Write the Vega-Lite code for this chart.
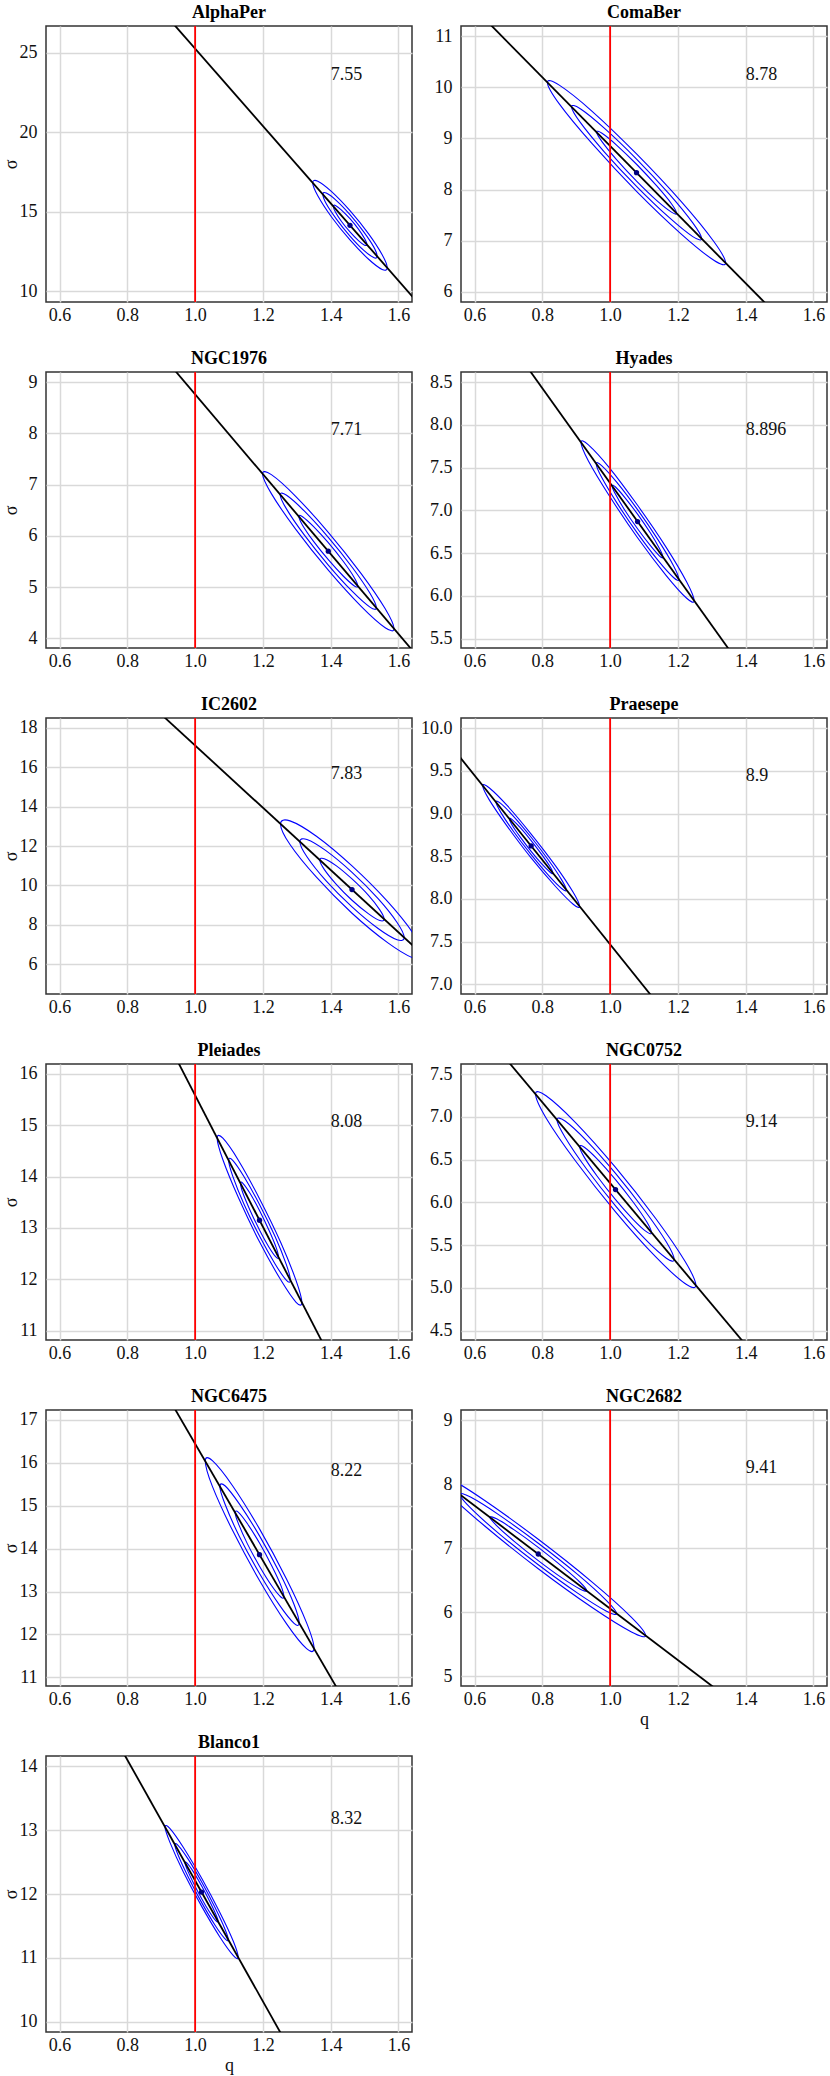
{
"$schema": "https://vega.github.io/schema/vega-lite/v6.json",
"padding": {"left": 1, "top": 3, "right": 2, "bottom": 2},
"config": {
  "font": "Liberation Serif",
  "view": {"stroke": "#333333", "strokeWidth": 1.5},
  "title": {"font": "Liberation Serif", "fontSize": 18, "fontWeight": "bold", "color": "#000000", "offset": 3},
  "axis": {"labelFont": "Liberation Serif", "labelFontSize": 18, "labelColor": "#111111", "titleFont": "Liberation Serif", "titleFontSize": 18, "titleFontWeight": "normal", "titleColor": "#111111", "grid": true, "gridColor": "#d9d9d9", "gridWidth": 1.5, "domain": false, "ticks": false},
  "axisX": {"labelPadding": 4, "titlePadding": 2},
  "axisY": {"labelPadding": 9, "minExtent": 26, "maxExtent": 26, "titlePadding": 0},
  "text": {"font": "Liberation Serif"}
},
"datasets": {
  "fit": [
    {"p":"AlphaPer","q":0.5,"s":37.41},{"p":"AlphaPer","q":1.7,"s":8.245},
    {"p":"ComaBer","q":0.5,"s":12.214},{"p":"ComaBer","q":1.7,"s":4.15},
    {"p":"NGC1976","q":0.5,"s":12.665},{"p":"NGC1976","q":1.7,"s":3.305},
    {"p":"Hyades","q":0.5,"s":10.095},{"p":"Hyades","q":1.7,"s":3.435},
    {"p":"IC2602","q":0.5,"s":25.005},{"p":"IC2602","q":1.7,"s":6.045},
    {"p":"Praesepe","q":0.5,"s":9.942},{"p":"Praesepe","q":1.7,"s":4.002},
    {"p":"Pleiades","q":0.5,"s":21.982},{"p":"Pleiades","q":1.7,"s":6.622},
    {"p":"NGC0752","q":0.5,"s":8.591},{"p":"NGC0752","q":1.7,"s":2.915},
    {"p":"NGC6475","q":0.5,"s":23.244},{"p":"NGC6475","q":1.7,"s":6.924},
    {"p":"NGC2682","q":0.5,"s":8.069},{"p":"NGC2682","q":1.7,"s":3.245},
    {"p":"Blanco1","q":0.5,"s":16.935},{"p":"Blanco1","q":1.7,"s":5.595}
  ],
  "centers": [
    {"p":"AlphaPer","q":1.457,"s":14.15},
    {"p":"ComaBer","q":1.078,"s":8.33},
    {"p":"NGC1976","q":1.393,"s":5.70},
    {"p":"Hyades","q":1.081,"s":6.87},
    {"p":"IC2602","q":1.463,"s":9.79},
    {"p":"Praesepe","q":0.767,"s":8.62},
    {"p":"Pleiades","q":1.19,"s":13.15},
    {"p":"NGC0752","q":1.016,"s":6.15},
    {"p":"NGC6475","q":1.19,"s":13.86},
    {"p":"NGC2682","q":0.788,"s":6.911},
    {"p":"Blanco1","q":1.019,"s":12.03}
  ],
  "labels": [
    {"p":"AlphaPer","q":1.4,"s":23.6,"t":"7.55"},
    {"p":"ComaBer","q":1.4,"s":10.24,"t":"8.78"},
    {"p":"NGC1976","q":1.4,"s":8.06,"t":"7.71"},
    {"p":"Hyades","q":1.4,"s":7.94,"t":"8.896"},
    {"p":"IC2602","q":1.4,"s":15.65,"t":"7.83"},
    {"p":"Praesepe","q":1.4,"s":9.44,"t":"8.9"},
    {"p":"Pleiades","q":1.4,"s":15.06,"t":"8.08"},
    {"p":"NGC0752","q":1.4,"s":6.94,"t":"9.14"},
    {"p":"NGC6475","q":1.4,"s":15.8,"t":"8.22"},
    {"p":"NGC2682","q":1.4,"s":8.26,"t":"9.41"},
    {"p":"Blanco1","q":1.4,"s":13.17,"t":"8.32"}
  ],
  "ell": [
    {"p":"AlphaPer","e":1,"i":0,"q":1.567,"s":11.477},{"p":"AlphaPer","e":1,"i":1,"q":1.552,"s":12.295},{"p":"AlphaPer","e":1,"i":2,"q":1.512,"s":13.61},{"p":"AlphaPer","e":1,"i":3,"q":1.457,"s":15.07},{"p":"AlphaPer","e":1,"i":4,"q":1.402,"s":16.284},{"p":"AlphaPer","e":1,"i":5,"q":1.362,"s":16.925},{"p":"AlphaPer","e":1,"i":6,"q":1.347,"s":16.823},{"p":"AlphaPer","e":1,"i":7,"q":1.362,"s":16.005},{"p":"AlphaPer","e":1,"i":8,"q":1.402,"s":14.69},{"p":"AlphaPer","e":1,"i":9,"q":1.457,"s":13.23},{"p":"AlphaPer","e":1,"i":10,"q":1.512,"s":12.016},{"p":"AlphaPer","e":1,"i":11,"q":1.552,"s":11.375},
    {"p":"AlphaPer","e":2,"i":0,"q":1.537,"s":12.199},{"p":"AlphaPer","e":2,"i":1,"q":1.527,"s":12.796},{"p":"AlphaPer","e":2,"i":2,"q":1.497,"s":13.756},{"p":"AlphaPer","e":2,"i":3,"q":1.457,"s":14.822},{"p":"AlphaPer","e":2,"i":4,"q":1.417,"s":15.708},{"p":"AlphaPer","e":2,"i":5,"q":1.387,"s":16.176},{"p":"AlphaPer","e":2,"i":6,"q":1.377,"s":16.101},{"p":"AlphaPer","e":2,"i":7,"q":1.387,"s":15.504},{"p":"AlphaPer","e":2,"i":8,"q":1.417,"s":14.544},{"p":"AlphaPer","e":2,"i":9,"q":1.457,"s":13.478},{"p":"AlphaPer","e":2,"i":10,"q":1.497,"s":12.592},{"p":"AlphaPer","e":2,"i":11,"q":1.527,"s":12.124},
    {"p":"AlphaPer","e":3,"i":0,"q":1.507,"s":12.947},{"p":"AlphaPer","e":3,"i":1,"q":1.5,"s":13.315},{"p":"AlphaPer","e":3,"i":2,"q":1.482,"s":13.908},{"p":"AlphaPer","e":3,"i":3,"q":1.457,"s":14.564},{"p":"AlphaPer","e":3,"i":4,"q":1.432,"s":15.11},{"p":"AlphaPer","e":3,"i":5,"q":1.414,"s":15.399},{"p":"AlphaPer","e":3,"i":6,"q":1.408,"s":15.353},{"p":"AlphaPer","e":3,"i":7,"q":1.414,"s":14.985},{"p":"AlphaPer","e":3,"i":8,"q":1.432,"s":14.392},{"p":"AlphaPer","e":3,"i":9,"q":1.457,"s":13.736},{"p":"AlphaPer","e":3,"i":10,"q":1.482,"s":13.19},{"p":"AlphaPer","e":3,"i":11,"q":1.5,"s":12.901},

    {"p":"ComaBer","e":1,"i":0,"q":1.341,"s":6.563},{"p":"ComaBer","e":1,"i":1,"q":1.306,"s":6.983},{"p":"ComaBer","e":1,"i":2,"q":1.21,"s":7.763},{"p":"ComaBer","e":1,"i":3,"q":1.078,"s":8.696},{"p":"ComaBer","e":1,"i":4,"q":0.947,"s":9.531},{"p":"ComaBer","e":1,"i":5,"q":0.85,"s":10.043},{"p":"ComaBer","e":1,"i":6,"q":0.815,"s":10.097},{"p":"ComaBer","e":1,"i":7,"q":0.85,"s":9.677},{"p":"ComaBer","e":1,"i":8,"q":0.947,"s":8.897},{"p":"ComaBer","e":1,"i":9,"q":1.078,"s":7.964},{"p":"ComaBer","e":1,"i":10,"q":1.21,"s":7.129},{"p":"ComaBer","e":1,"i":11,"q":1.306,"s":6.617},
    {"p":"ComaBer","e":2,"i":0,"q":1.27,"s":7.04},{"p":"ComaBer","e":2,"i":1,"q":1.244,"s":7.347},{"p":"ComaBer","e":2,"i":2,"q":1.174,"s":7.916},{"p":"ComaBer","e":2,"i":3,"q":1.078,"s":8.597},{"p":"ComaBer","e":2,"i":4,"q":0.982,"s":9.206},{"p":"ComaBer","e":2,"i":5,"q":0.912,"s":9.581},{"p":"ComaBer","e":2,"i":6,"q":0.886,"s":9.62},{"p":"ComaBer","e":2,"i":7,"q":0.912,"s":9.313},{"p":"ComaBer","e":2,"i":8,"q":0.982,"s":8.744},{"p":"ComaBer","e":2,"i":9,"q":1.078,"s":8.063},{"p":"ComaBer","e":2,"i":10,"q":1.174,"s":7.454},{"p":"ComaBer","e":2,"i":11,"q":1.244,"s":7.079},
    {"p":"ComaBer","e":3,"i":0,"q":1.196,"s":7.535},{"p":"ComaBer","e":3,"i":1,"q":1.181,"s":7.723},{"p":"ComaBer","e":3,"i":2,"q":1.137,"s":8.075},{"p":"ComaBer","e":3,"i":3,"q":1.078,"s":8.495},{"p":"ComaBer","e":3,"i":4,"q":1.019,"s":8.871},{"p":"ComaBer","e":3,"i":5,"q":0.976,"s":9.101},{"p":"ComaBer","e":3,"i":6,"q":0.96,"s":9.125},{"p":"ComaBer","e":3,"i":7,"q":0.976,"s":8.937},{"p":"ComaBer","e":3,"i":8,"q":1.019,"s":8.585},{"p":"ComaBer","e":3,"i":9,"q":1.078,"s":8.165},{"p":"ComaBer","e":3,"i":10,"q":1.137,"s":7.789},{"p":"ComaBer","e":3,"i":11,"q":1.181,"s":7.559},

    {"p":"NGC1976","e":1,"i":0,"q":1.587,"s":4.187},{"p":"NGC1976","e":1,"i":1,"q":1.561,"s":4.575},{"p":"NGC1976","e":1,"i":2,"q":1.49,"s":5.263},{"p":"NGC1976","e":1,"i":3,"q":1.393,"s":6.07},{"p":"NGC1976","e":1,"i":4,"q":1.296,"s":6.777},{"p":"NGC1976","e":1,"i":5,"q":1.225,"s":7.195},{"p":"NGC1976","e":1,"i":6,"q":1.199,"s":7.213},{"p":"NGC1976","e":1,"i":7,"q":1.225,"s":6.825},{"p":"NGC1976","e":1,"i":8,"q":1.296,"s":6.137},{"p":"NGC1976","e":1,"i":9,"q":1.393,"s":5.33},{"p":"NGC1976","e":1,"i":10,"q":1.49,"s":4.623},{"p":"NGC1976","e":1,"i":11,"q":1.561,"s":4.205},
    {"p":"NGC1976","e":2,"i":0,"q":1.535,"s":4.596},{"p":"NGC1976","e":2,"i":1,"q":1.516,"s":4.878},{"p":"NGC1976","e":2,"i":2,"q":1.464,"s":5.382},{"p":"NGC1976","e":2,"i":3,"q":1.393,"s":5.97},{"p":"NGC1976","e":2,"i":4,"q":1.322,"s":6.486},{"p":"NGC1976","e":2,"i":5,"q":1.27,"s":6.792},{"p":"NGC1976","e":2,"i":6,"q":1.251,"s":6.805},{"p":"NGC1976","e":2,"i":7,"q":1.27,"s":6.522},{"p":"NGC1976","e":2,"i":8,"q":1.322,"s":6.018},{"p":"NGC1976","e":2,"i":9,"q":1.393,"s":5.43},{"p":"NGC1976","e":2,"i":10,"q":1.464,"s":4.914},{"p":"NGC1976","e":2,"i":11,"q":1.516,"s":4.608},
    {"p":"NGC1976","e":3,"i":0,"q":1.48,"s":5.019},{"p":"NGC1976","e":3,"i":1,"q":1.469,"s":5.193},{"p":"NGC1976","e":3,"i":2,"q":1.437,"s":5.504},{"p":"NGC1976","e":3,"i":3,"q":1.393,"s":5.867},{"p":"NGC1976","e":3,"i":4,"q":1.349,"s":6.184},{"p":"NGC1976","e":3,"i":5,"q":1.317,"s":6.373},{"p":"NGC1976","e":3,"i":6,"q":1.306,"s":6.381},{"p":"NGC1976","e":3,"i":7,"q":1.317,"s":6.207},{"p":"NGC1976","e":3,"i":8,"q":1.349,"s":5.896},{"p":"NGC1976","e":3,"i":9,"q":1.393,"s":5.534},{"p":"NGC1976","e":3,"i":10,"q":1.437,"s":5.216},{"p":"NGC1976","e":3,"i":11,"q":1.469,"s":5.027},

    {"p":"Hyades","e":1,"i":0,"q":1.248,"s":5.943},{"p":"Hyades","e":1,"i":1,"q":1.226,"s":6.162},{"p":"Hyades","e":1,"i":2,"q":1.165,"s":6.571},{"p":"Hyades","e":1,"i":3,"q":1.081,"s":7.06},{"p":"Hyades","e":1,"i":4,"q":0.998,"s":7.499},{"p":"Hyades","e":1,"i":5,"q":0.936,"s":7.768},{"p":"Hyades","e":1,"i":6,"q":0.914,"s":7.797},{"p":"Hyades","e":1,"i":7,"q":0.936,"s":7.578},{"p":"Hyades","e":1,"i":8,"q":0.998,"s":7.169},{"p":"Hyades","e":1,"i":9,"q":1.081,"s":6.68},{"p":"Hyades","e":1,"i":10,"q":1.165,"s":6.241},{"p":"Hyades","e":1,"i":11,"q":1.226,"s":5.972},
    {"p":"Hyades","e":2,"i":0,"q":1.203,"s":6.193},{"p":"Hyades","e":2,"i":1,"q":1.187,"s":6.353},{"p":"Hyades","e":2,"i":2,"q":1.142,"s":6.652},{"p":"Hyades","e":2,"i":3,"q":1.081,"s":7.009},{"p":"Hyades","e":2,"i":4,"q":1.02,"s":7.328},{"p":"Hyades","e":2,"i":5,"q":0.975,"s":7.525},{"p":"Hyades","e":2,"i":6,"q":0.959,"s":7.547},{"p":"Hyades","e":2,"i":7,"q":0.975,"s":7.387},{"p":"Hyades","e":2,"i":8,"q":1.02,"s":7.088},{"p":"Hyades","e":2,"i":9,"q":1.081,"s":6.731},{"p":"Hyades","e":2,"i":10,"q":1.142,"s":6.412},{"p":"Hyades","e":2,"i":11,"q":1.187,"s":6.215},
    {"p":"Hyades","e":3,"i":0,"q":1.156,"s":6.453},{"p":"Hyades","e":3,"i":1,"q":1.146,"s":6.552},{"p":"Hyades","e":3,"i":2,"q":1.119,"s":6.735},{"p":"Hyades","e":3,"i":3,"q":1.081,"s":6.956},{"p":"Hyades","e":3,"i":4,"q":1.043,"s":7.153},{"p":"Hyades","e":3,"i":5,"q":1.016,"s":7.274},{"p":"Hyades","e":3,"i":6,"q":1.006,"s":7.287},{"p":"Hyades","e":3,"i":7,"q":1.016,"s":7.188},{"p":"Hyades","e":3,"i":8,"q":1.043,"s":7.005},{"p":"Hyades","e":3,"i":9,"q":1.081,"s":6.785},{"p":"Hyades","e":3,"i":10,"q":1.119,"s":6.587},{"p":"Hyades","e":3,"i":11,"q":1.146,"s":6.466},

    {"p":"IC2602","e":1,"i":0,"q":1.674,"s":6.456},{"p":"IC2602","e":1,"i":1,"q":1.646,"s":7.503},{"p":"IC2602","e":1,"i":2,"q":1.569,"s":9.162},{"p":"IC2602","e":1,"i":3,"q":1.463,"s":10.99},{"p":"IC2602","e":1,"i":4,"q":1.358,"s":12.496},{"p":"IC2602","e":1,"i":5,"q":1.28,"s":13.277},{"p":"IC2602","e":1,"i":6,"q":1.252,"s":13.124},{"p":"IC2602","e":1,"i":7,"q":1.28,"s":12.077},{"p":"IC2602","e":1,"i":8,"q":1.358,"s":10.418},{"p":"IC2602","e":1,"i":9,"q":1.463,"s":8.59},{"p":"IC2602","e":1,"i":10,"q":1.569,"s":7.084},{"p":"IC2602","e":1,"i":11,"q":1.646,"s":6.303},
    {"p":"IC2602","e":2,"i":0,"q":1.617,"s":7.356},{"p":"IC2602","e":2,"i":1,"q":1.596,"s":8.12},{"p":"IC2602","e":2,"i":2,"q":1.54,"s":9.332},{"p":"IC2602","e":2,"i":3,"q":1.463,"s":10.666},{"p":"IC2602","e":2,"i":4,"q":1.386,"s":11.766},{"p":"IC2602","e":2,"i":5,"q":1.33,"s":12.336},{"p":"IC2602","e":2,"i":6,"q":1.309,"s":12.224},{"p":"IC2602","e":2,"i":7,"q":1.33,"s":11.46},{"p":"IC2602","e":2,"i":8,"q":1.386,"s":10.248},{"p":"IC2602","e":2,"i":9,"q":1.463,"s":8.914},{"p":"IC2602","e":2,"i":10,"q":1.54,"s":7.814},{"p":"IC2602","e":2,"i":11,"q":1.596,"s":7.244},
    {"p":"IC2602","e":3,"i":0,"q":1.558,"s":8.29},{"p":"IC2602","e":3,"i":1,"q":1.545,"s":8.761},{"p":"IC2602","e":3,"i":2,"q":1.511,"s":9.508},{"p":"IC2602","e":3,"i":3,"q":1.463,"s":10.33},{"p":"IC2602","e":3,"i":4,"q":1.416,"s":11.008},{"p":"IC2602","e":3,"i":5,"q":1.381,"s":11.359},{"p":"IC2602","e":3,"i":6,"q":1.368,"s":11.29},{"p":"IC2602","e":3,"i":7,"q":1.381,"s":10.819},{"p":"IC2602","e":3,"i":8,"q":1.416,"s":10.072},{"p":"IC2602","e":3,"i":9,"q":1.463,"s":9.25},{"p":"IC2602","e":3,"i":10,"q":1.511,"s":8.572},{"p":"IC2602","e":3,"i":11,"q":1.545,"s":8.221},

    {"p":"Praesepe","e":1,"i":0,"q":0.91,"s":7.912},{"p":"Praesepe","e":1,"i":1,"q":0.891,"s":8.077},{"p":"Praesepe","e":1,"i":2,"q":0.839,"s":8.387},{"p":"Praesepe","e":1,"i":3,"q":0.767,"s":8.76},{"p":"Praesepe","e":1,"i":4,"q":0.696,"s":9.095},{"p":"Praesepe","e":1,"i":5,"q":0.643,"s":9.303},{"p":"Praesepe","e":1,"i":6,"q":0.624,"s":9.328},{"p":"Praesepe","e":1,"i":7,"q":0.643,"s":9.163},{"p":"Praesepe","e":1,"i":8,"q":0.696,"s":8.853},{"p":"Praesepe","e":1,"i":9,"q":0.767,"s":8.48},{"p":"Praesepe","e":1,"i":10,"q":0.839,"s":8.145},{"p":"Praesepe","e":1,"i":11,"q":0.891,"s":7.937},
    {"p":"Praesepe","e":2,"i":0,"q":0.871,"s":8.103},{"p":"Praesepe","e":2,"i":1,"q":0.857,"s":8.223},{"p":"Praesepe","e":2,"i":2,"q":0.819,"s":8.45},{"p":"Praesepe","e":2,"i":3,"q":0.767,"s":8.722},{"p":"Praesepe","e":2,"i":4,"q":0.715,"s":8.968},{"p":"Praesepe","e":2,"i":5,"q":0.677,"s":9.119},{"p":"Praesepe","e":2,"i":6,"q":0.663,"s":9.137},{"p":"Praesepe","e":2,"i":7,"q":0.677,"s":9.017},{"p":"Praesepe","e":2,"i":8,"q":0.715,"s":8.79},{"p":"Praesepe","e":2,"i":9,"q":0.767,"s":8.518},{"p":"Praesepe","e":2,"i":10,"q":0.819,"s":8.272},{"p":"Praesepe","e":2,"i":11,"q":0.857,"s":8.121},
    {"p":"Praesepe","e":3,"i":0,"q":0.831,"s":8.301},{"p":"Praesepe","e":3,"i":1,"q":0.823,"s":8.376},{"p":"Praesepe","e":3,"i":2,"q":0.799,"s":8.516},{"p":"Praesepe","e":3,"i":3,"q":0.767,"s":8.683},{"p":"Praesepe","e":3,"i":4,"q":0.735,"s":8.834},{"p":"Praesepe","e":3,"i":5,"q":0.711,"s":8.928},{"p":"Praesepe","e":3,"i":6,"q":0.703,"s":8.939},{"p":"Praesepe","e":3,"i":7,"q":0.711,"s":8.864},{"p":"Praesepe","e":3,"i":8,"q":0.735,"s":8.724},{"p":"Praesepe","e":3,"i":9,"q":0.767,"s":8.557},{"p":"Praesepe","e":3,"i":10,"q":0.799,"s":8.406},{"p":"Praesepe","e":3,"i":11,"q":0.823,"s":8.312},

    {"p":"Pleiades","e":1,"i":0,"q":1.315,"s":11.55},{"p":"Pleiades","e":1,"i":1,"q":1.298,"s":11.974},{"p":"Pleiades","e":1,"i":2,"q":1.253,"s":12.714},{"p":"Pleiades","e":1,"i":3,"q":1.19,"s":13.57},{"p":"Pleiades","e":1,"i":4,"q":1.128,"s":14.314},{"p":"Pleiades","e":1,"i":5,"q":1.082,"s":14.746},{"p":"Pleiades","e":1,"i":6,"q":1.065,"s":14.75},{"p":"Pleiades","e":1,"i":7,"q":1.082,"s":14.326},{"p":"Pleiades","e":1,"i":8,"q":1.128,"s":13.586},{"p":"Pleiades","e":1,"i":9,"q":1.19,"s":12.73},{"p":"Pleiades","e":1,"i":10,"q":1.253,"s":11.986},{"p":"Pleiades","e":1,"i":11,"q":1.298,"s":11.554},
    {"p":"Pleiades","e":2,"i":0,"q":1.281,"s":11.982},{"p":"Pleiades","e":2,"i":1,"q":1.269,"s":12.291},{"p":"Pleiades","e":2,"i":2,"q":1.236,"s":12.832},{"p":"Pleiades","e":2,"i":3,"q":1.19,"s":13.457},{"p":"Pleiades","e":2,"i":4,"q":1.144,"s":14.0},{"p":"Pleiades","e":2,"i":5,"q":1.111,"s":14.315},{"p":"Pleiades","e":2,"i":6,"q":1.099,"s":14.318},{"p":"Pleiades","e":2,"i":7,"q":1.111,"s":14.009},{"p":"Pleiades","e":2,"i":8,"q":1.144,"s":13.468},{"p":"Pleiades","e":2,"i":9,"q":1.19,"s":12.843},{"p":"Pleiades","e":2,"i":10,"q":1.236,"s":12.3},{"p":"Pleiades","e":2,"i":11,"q":1.269,"s":11.985},
    {"p":"Pleiades","e":3,"i":0,"q":1.246,"s":12.43},{"p":"Pleiades","e":3,"i":1,"q":1.239,"s":12.621},{"p":"Pleiades","e":3,"i":2,"q":1.218,"s":12.954},{"p":"Pleiades","e":3,"i":3,"q":1.19,"s":13.339},{"p":"Pleiades","e":3,"i":4,"q":1.162,"s":13.674},{"p":"Pleiades","e":3,"i":5,"q":1.141,"s":13.869},{"p":"Pleiades","e":3,"i":6,"q":1.134,"s":13.87},{"p":"Pleiades","e":3,"i":7,"q":1.141,"s":13.679},{"p":"Pleiades","e":3,"i":8,"q":1.162,"s":13.346},{"p":"Pleiades","e":3,"i":9,"q":1.19,"s":12.961},{"p":"Pleiades","e":3,"i":10,"q":1.218,"s":12.626},{"p":"Pleiades","e":3,"i":11,"q":1.239,"s":12.431},

    {"p":"NGC0752","e":1,"i":0,"q":1.253,"s":5.031},{"p":"NGC0752","e":1,"i":1,"q":1.221,"s":5.311},{"p":"NGC0752","e":1,"i":2,"q":1.134,"s":5.815},{"p":"NGC0752","e":1,"i":3,"q":1.016,"s":6.41},{"p":"NGC0752","e":1,"i":4,"q":0.898,"s":6.935},{"p":"NGC0752","e":1,"i":5,"q":0.811,"s":7.249},{"p":"NGC0752","e":1,"i":6,"q":0.78,"s":7.269},{"p":"NGC0752","e":1,"i":7,"q":0.811,"s":6.989},{"p":"NGC0752","e":1,"i":8,"q":0.898,"s":6.485},{"p":"NGC0752","e":1,"i":9,"q":1.016,"s":5.89},{"p":"NGC0752","e":1,"i":10,"q":1.134,"s":5.365},{"p":"NGC0752","e":1,"i":11,"q":1.221,"s":5.051},
    {"p":"NGC0752","e":2,"i":0,"q":1.189,"s":5.333},{"p":"NGC0752","e":2,"i":1,"q":1.166,"s":5.537},{"p":"NGC0752","e":2,"i":2,"q":1.102,"s":5.906},{"p":"NGC0752","e":2,"i":3,"q":1.016,"s":6.34},{"p":"NGC0752","e":2,"i":4,"q":0.93,"s":6.724},{"p":"NGC0752","e":2,"i":5,"q":0.867,"s":6.953},{"p":"NGC0752","e":2,"i":6,"q":0.843,"s":6.967},{"p":"NGC0752","e":2,"i":7,"q":0.867,"s":6.763},{"p":"NGC0752","e":2,"i":8,"q":0.93,"s":6.394},{"p":"NGC0752","e":2,"i":9,"q":1.016,"s":5.96},{"p":"NGC0752","e":2,"i":10,"q":1.102,"s":5.576},{"p":"NGC0752","e":2,"i":11,"q":1.166,"s":5.347},
    {"p":"NGC0752","e":3,"i":0,"q":1.122,"s":5.646},{"p":"NGC0752","e":3,"i":1,"q":1.108,"s":5.773},{"p":"NGC0752","e":3,"i":2,"q":1.069,"s":5.999},{"p":"NGC0752","e":3,"i":3,"q":1.016,"s":6.267},{"p":"NGC0752","e":3,"i":4,"q":0.963,"s":6.503},{"p":"NGC0752","e":3,"i":5,"q":0.924,"s":6.645},{"p":"NGC0752","e":3,"i":6,"q":0.91,"s":6.654},{"p":"NGC0752","e":3,"i":7,"q":0.924,"s":6.527},{"p":"NGC0752","e":3,"i":8,"q":0.963,"s":6.301},{"p":"NGC0752","e":3,"i":9,"q":1.016,"s":6.033},{"p":"NGC0752","e":3,"i":10,"q":1.069,"s":5.797},{"p":"NGC0752","e":3,"i":11,"q":1.108,"s":5.655},

    {"p":"NGC6475","e":1,"i":0,"q":1.351,"s":11.677},{"p":"NGC6475","e":1,"i":1,"q":1.329,"s":12.27},{"p":"NGC6475","e":1,"i":2,"q":1.27,"s":13.288},{"p":"NGC6475","e":1,"i":3,"q":1.19,"s":14.46},{"p":"NGC6475","e":1,"i":4,"q":1.11,"s":15.472},{"p":"NGC6475","e":1,"i":5,"q":1.051,"s":16.05},{"p":"NGC6475","e":1,"i":6,"q":1.03,"s":16.043},{"p":"NGC6475","e":1,"i":7,"q":1.051,"s":15.45},{"p":"NGC6475","e":1,"i":8,"q":1.11,"s":14.432},{"p":"NGC6475","e":1,"i":9,"q":1.19,"s":13.26},{"p":"NGC6475","e":1,"i":10,"q":1.27,"s":12.248},{"p":"NGC6475","e":1,"i":11,"q":1.329,"s":11.67},
    {"p":"NGC6475","e":2,"i":0,"q":1.307,"s":12.266},{"p":"NGC6475","e":2,"i":1,"q":1.292,"s":12.699},{"p":"NGC6475","e":2,"i":2,"q":1.249,"s":13.442},{"p":"NGC6475","e":2,"i":3,"q":1.19,"s":14.298},{"p":"NGC6475","e":2,"i":4,"q":1.131,"s":15.036},{"p":"NGC6475","e":2,"i":5,"q":1.089,"s":15.459},{"p":"NGC6475","e":2,"i":6,"q":1.073,"s":15.454},{"p":"NGC6475","e":2,"i":7,"q":1.089,"s":15.021},{"p":"NGC6475","e":2,"i":8,"q":1.131,"s":14.278},{"p":"NGC6475","e":2,"i":9,"q":1.19,"s":13.422},{"p":"NGC6475","e":2,"i":10,"q":1.249,"s":12.684},{"p":"NGC6475","e":2,"i":11,"q":1.292,"s":12.261},
    {"p":"NGC6475","e":3,"i":0,"q":1.262,"s":12.878},{"p":"NGC6475","e":3,"i":1,"q":1.253,"s":13.144},{"p":"NGC6475","e":3,"i":2,"q":1.226,"s":13.603},{"p":"NGC6475","e":3,"i":3,"q":1.19,"s":14.13},{"p":"NGC6475","e":3,"i":4,"q":1.154,"s":14.585},{"p":"NGC6475","e":3,"i":5,"q":1.128,"s":14.846},{"p":"NGC6475","e":3,"i":6,"q":1.118,"s":14.842},{"p":"NGC6475","e":3,"i":7,"q":1.128,"s":14.576},{"p":"NGC6475","e":3,"i":8,"q":1.154,"s":14.117},{"p":"NGC6475","e":3,"i":9,"q":1.19,"s":13.59},{"p":"NGC6475","e":3,"i":10,"q":1.226,"s":13.135},{"p":"NGC6475","e":3,"i":11,"q":1.253,"s":12.874},

    {"p":"NGC2682","e":1,"i":0,"q":1.105,"s":5.637},{"p":"NGC2682","e":1,"i":1,"q":1.063,"s":5.923},{"p":"NGC2682","e":1,"i":2,"q":0.947,"s":6.473},{"p":"NGC2682","e":1,"i":3,"q":0.788,"s":7.141},{"p":"NGC2682","e":1,"i":4,"q":0.63,"s":7.747},{"p":"NGC2682","e":1,"i":5,"q":0.514,"s":8.129},{"p":"NGC2682","e":1,"i":6,"q":0.471,"s":8.185},{"p":"NGC2682","e":1,"i":7,"q":0.514,"s":7.899},{"p":"NGC2682","e":1,"i":8,"q":0.63,"s":7.349},{"p":"NGC2682","e":1,"i":9,"q":0.788,"s":6.681},{"p":"NGC2682","e":1,"i":10,"q":0.947,"s":6.075},{"p":"NGC2682","e":1,"i":11,"q":1.063,"s":5.693},
    {"p":"NGC2682","e":2,"i":0,"q":1.019,"s":5.981},{"p":"NGC2682","e":2,"i":1,"q":0.988,"s":6.19},{"p":"NGC2682","e":2,"i":2,"q":0.904,"s":6.592},{"p":"NGC2682","e":2,"i":3,"q":0.788,"s":7.079},{"p":"NGC2682","e":2,"i":4,"q":0.672,"s":7.522},{"p":"NGC2682","e":2,"i":5,"q":0.588,"s":7.8},{"p":"NGC2682","e":2,"i":6,"q":0.557,"s":7.841},{"p":"NGC2682","e":2,"i":7,"q":0.588,"s":7.632},{"p":"NGC2682","e":2,"i":8,"q":0.672,"s":7.23},{"p":"NGC2682","e":2,"i":9,"q":0.788,"s":6.743},{"p":"NGC2682","e":2,"i":10,"q":0.904,"s":6.3},{"p":"NGC2682","e":2,"i":11,"q":0.988,"s":6.022},
    {"p":"NGC2682","e":3,"i":0,"q":0.931,"s":6.338},{"p":"NGC2682","e":3,"i":1,"q":0.912,"s":6.466},{"p":"NGC2682","e":3,"i":2,"q":0.859,"s":6.714},{"p":"NGC2682","e":3,"i":3,"q":0.788,"s":7.015},{"p":"NGC2682","e":3,"i":4,"q":0.717,"s":7.288},{"p":"NGC2682","e":3,"i":5,"q":0.665,"s":7.46},{"p":"NGC2682","e":3,"i":6,"q":0.645,"s":7.484},{"p":"NGC2682","e":3,"i":7,"q":0.665,"s":7.356},{"p":"NGC2682","e":3,"i":8,"q":0.717,"s":7.108},{"p":"NGC2682","e":3,"i":9,"q":0.788,"s":6.808},{"p":"NGC2682","e":3,"i":10,"q":0.859,"s":6.534},{"p":"NGC2682","e":3,"i":11,"q":0.912,"s":6.362},

    {"p":"Blanco1","e":1,"i":0,"q":1.127,"s":11.009},{"p":"Blanco1","e":1,"i":1,"q":1.113,"s":11.256},{"p":"Blanco1","e":1,"i":2,"q":1.073,"s":11.71},{"p":"Blanco1","e":1,"i":3,"q":1.019,"s":12.25},{"p":"Blanco1","e":1,"i":4,"q":0.965,"s":12.732},{"p":"Blanco1","e":1,"i":5,"q":0.926,"s":13.024},{"p":"Blanco1","e":1,"i":6,"q":0.911,"s":13.051},{"p":"Blanco1","e":1,"i":7,"q":0.926,"s":12.804},{"p":"Blanco1","e":1,"i":8,"q":0.965,"s":12.35},{"p":"Blanco1","e":1,"i":9,"q":1.019,"s":11.81},{"p":"Blanco1","e":1,"i":10,"q":1.073,"s":11.328},{"p":"Blanco1","e":1,"i":11,"q":1.113,"s":11.036},
    {"p":"Blanco1","e":2,"i":0,"q":1.098,"s":11.285},{"p":"Blanco1","e":2,"i":1,"q":1.087,"s":11.465},{"p":"Blanco1","e":2,"i":2,"q":1.058,"s":11.796},{"p":"Blanco1","e":2,"i":3,"q":1.019,"s":12.191},{"p":"Blanco1","e":2,"i":4,"q":0.98,"s":12.542},{"p":"Blanco1","e":2,"i":5,"q":0.951,"s":12.755},{"p":"Blanco1","e":2,"i":6,"q":0.94,"s":12.775},{"p":"Blanco1","e":2,"i":7,"q":0.951,"s":12.595},{"p":"Blanco1","e":2,"i":8,"q":0.98,"s":12.264},{"p":"Blanco1","e":2,"i":9,"q":1.019,"s":11.869},{"p":"Blanco1","e":2,"i":10,"q":1.058,"s":11.518},{"p":"Blanco1","e":2,"i":11,"q":1.087,"s":11.305},
    {"p":"Blanco1","e":3,"i":0,"q":1.068,"s":11.571},{"p":"Blanco1","e":3,"i":1,"q":1.061,"s":11.682},{"p":"Blanco1","e":3,"i":2,"q":1.043,"s":11.886},{"p":"Blanco1","e":3,"i":3,"q":1.019,"s":12.129},{"p":"Blanco1","e":3,"i":4,"q":0.995,"s":12.346},{"p":"Blanco1","e":3,"i":5,"q":0.977,"s":12.478},{"p":"Blanco1","e":3,"i":6,"q":0.97,"s":12.489},{"p":"Blanco1","e":3,"i":7,"q":0.977,"s":12.378},{"p":"Blanco1","e":3,"i":8,"q":0.995,"s":12.174},{"p":"Blanco1","e":3,"i":9,"q":1.019,"s":11.931},{"p":"Blanco1","e":3,"i":10,"q":1.043,"s":11.714},{"p":"Blanco1","e":3,"i":11,"q":1.061,"s":11.582}
  ]
},
"columns": 2,
"spacing": {"row": 70, "column": 49},
"bounds": "flush",
"concat": [
  {"title":"AlphaPer","width":366,"height":276,"layer":[
    {"data":{"name":"ell"},"transform":[{"filter":{"field":"p","equal":"AlphaPer"}}],"mark":{"type":"line","color":"#0000ff","strokeWidth":1.1,"interpolate":"cardinal-closed","clip":true},"encoding":{"x":{"field":"q","type":"quantitative","scale":{"domain":[0.56,1.64],"nice":false,"zero":false},"axis":{"title":null,"values":[0.6,0.8,1.0,1.2,1.4,1.6],"format":".1f"}},"y":{"field":"s","type":"quantitative","scale":{"domain":[9.33,26.68],"nice":false,"zero":false},"axis":{"title":"σ","values":[10,15,20,25],"format":"d"}},"detail":{"field":"e"},"order":{"field":"i"}}},
    {"data":{"name":"fit"},"transform":[{"filter":{"field":"p","equal":"AlphaPer"}}],"mark":{"type":"line","color":"#000000","strokeWidth":1.8,"clip":true},"encoding":{"x":{"field":"q","type":"quantitative"},"y":{"field":"s","type":"quantitative"}}},
    {"data":{"name":"centers"},"transform":[{"filter":{"field":"p","equal":"AlphaPer"}}],"mark":{"type":"rule","color":"#ff0000","strokeWidth":1.8},"encoding":{"x":{"datum":1,"type":"quantitative"}}},
    {"data":{"name":"centers"},"transform":[{"filter":{"field":"p","equal":"AlphaPer"}}],"mark":{"type":"point","filled":true,"opacity":1,"color":"#000080","size":28},"encoding":{"x":{"field":"q","type":"quantitative"},"y":{"field":"s","type":"quantitative"}}},
    {"data":{"name":"labels"},"transform":[{"filter":{"field":"p","equal":"AlphaPer"}}],"mark":{"type":"text","align":"left","baseline":"middle","fontSize":18,"color":"#111111"},"encoding":{"x":{"field":"q","type":"quantitative"},"y":{"field":"s","type":"quantitative"},"text":{"field":"t"}}}
  ]},
  {"title":"ComaBer","width":366,"height":276,"layer":[
    {"data":{"name":"ell"},"transform":[{"filter":{"field":"p","equal":"ComaBer"}}],"mark":{"type":"line","color":"#0000ff","strokeWidth":1.1,"interpolate":"cardinal-closed","clip":true},"encoding":{"x":{"field":"q","type":"quantitative","scale":{"domain":[0.56,1.64],"nice":false,"zero":false},"axis":{"title":null,"values":[0.6,0.8,1.0,1.2,1.4,1.6],"format":".1f"}},"y":{"field":"s","type":"quantitative","scale":{"domain":[5.80,11.20],"nice":false,"zero":false},"axis":{"title":null,"values":[6,7,8,9,10,11],"format":"d"}},"detail":{"field":"e"},"order":{"field":"i"}}},
    {"data":{"name":"fit"},"transform":[{"filter":{"field":"p","equal":"ComaBer"}}],"mark":{"type":"line","color":"#000000","strokeWidth":1.8,"clip":true},"encoding":{"x":{"field":"q","type":"quantitative"},"y":{"field":"s","type":"quantitative"}}},
    {"data":{"name":"centers"},"transform":[{"filter":{"field":"p","equal":"ComaBer"}}],"mark":{"type":"rule","color":"#ff0000","strokeWidth":1.8},"encoding":{"x":{"datum":1,"type":"quantitative"}}},
    {"data":{"name":"centers"},"transform":[{"filter":{"field":"p","equal":"ComaBer"}}],"mark":{"type":"point","filled":true,"opacity":1,"color":"#000080","size":28},"encoding":{"x":{"field":"q","type":"quantitative"},"y":{"field":"s","type":"quantitative"}}},
    {"data":{"name":"labels"},"transform":[{"filter":{"field":"p","equal":"ComaBer"}}],"mark":{"type":"text","align":"left","baseline":"middle","fontSize":18,"color":"#111111"},"encoding":{"x":{"field":"q","type":"quantitative"},"y":{"field":"s","type":"quantitative"},"text":{"field":"t"}}}
  ]},
  {"title":"NGC1976","width":366,"height":276,"layer":[
    {"data":{"name":"ell"},"transform":[{"filter":{"field":"p","equal":"NGC1976"}}],"mark":{"type":"line","color":"#0000ff","strokeWidth":1.1,"interpolate":"cardinal-closed","clip":true},"encoding":{"x":{"field":"q","type":"quantitative","scale":{"domain":[0.56,1.64],"nice":false,"zero":false},"axis":{"title":null,"values":[0.6,0.8,1.0,1.2,1.4,1.6],"format":".1f"}},"y":{"field":"s","type":"quantitative","scale":{"domain":[3.81,9.20],"nice":false,"zero":false},"axis":{"title":"σ","values":[4,5,6,7,8,9],"format":"d"}},"detail":{"field":"e"},"order":{"field":"i"}}},
    {"data":{"name":"fit"},"transform":[{"filter":{"field":"p","equal":"NGC1976"}}],"mark":{"type":"line","color":"#000000","strokeWidth":1.8,"clip":true},"encoding":{"x":{"field":"q","type":"quantitative"},"y":{"field":"s","type":"quantitative"}}},
    {"data":{"name":"centers"},"transform":[{"filter":{"field":"p","equal":"NGC1976"}}],"mark":{"type":"rule","color":"#ff0000","strokeWidth":1.8},"encoding":{"x":{"datum":1,"type":"quantitative"}}},
    {"data":{"name":"centers"},"transform":[{"filter":{"field":"p","equal":"NGC1976"}}],"mark":{"type":"point","filled":true,"opacity":1,"color":"#000080","size":28},"encoding":{"x":{"field":"q","type":"quantitative"},"y":{"field":"s","type":"quantitative"}}},
    {"data":{"name":"labels"},"transform":[{"filter":{"field":"p","equal":"NGC1976"}}],"mark":{"type":"text","align":"left","baseline":"middle","fontSize":18,"color":"#111111"},"encoding":{"x":{"field":"q","type":"quantitative"},"y":{"field":"s","type":"quantitative"},"text":{"field":"t"}}}
  ]},
  {"title":"Hyades","width":366,"height":276,"layer":[
    {"data":{"name":"ell"},"transform":[{"filter":{"field":"p","equal":"Hyades"}}],"mark":{"type":"line","color":"#0000ff","strokeWidth":1.1,"interpolate":"cardinal-closed","clip":true},"encoding":{"x":{"field":"q","type":"quantitative","scale":{"domain":[0.56,1.64],"nice":false,"zero":false},"axis":{"title":null,"values":[0.6,0.8,1.0,1.2,1.4,1.6],"format":".1f"}},"y":{"field":"s","type":"quantitative","scale":{"domain":[5.39,8.62],"nice":false,"zero":false},"axis":{"title":null,"values":[5.5,6,6.5,7,7.5,8,8.5],"format":".1f"}},"detail":{"field":"e"},"order":{"field":"i"}}},
    {"data":{"name":"fit"},"transform":[{"filter":{"field":"p","equal":"Hyades"}}],"mark":{"type":"line","color":"#000000","strokeWidth":1.8,"clip":true},"encoding":{"x":{"field":"q","type":"quantitative"},"y":{"field":"s","type":"quantitative"}}},
    {"data":{"name":"centers"},"transform":[{"filter":{"field":"p","equal":"Hyades"}}],"mark":{"type":"rule","color":"#ff0000","strokeWidth":1.8},"encoding":{"x":{"datum":1,"type":"quantitative"}}},
    {"data":{"name":"centers"},"transform":[{"filter":{"field":"p","equal":"Hyades"}}],"mark":{"type":"point","filled":true,"opacity":1,"color":"#000080","size":28},"encoding":{"x":{"field":"q","type":"quantitative"},"y":{"field":"s","type":"quantitative"}}},
    {"data":{"name":"labels"},"transform":[{"filter":{"field":"p","equal":"Hyades"}}],"mark":{"type":"text","align":"left","baseline":"middle","fontSize":18,"color":"#111111"},"encoding":{"x":{"field":"q","type":"quantitative"},"y":{"field":"s","type":"quantitative"},"text":{"field":"t"}}}
  ]},
  {"title":"IC2602","width":366,"height":276,"layer":[
    {"data":{"name":"ell"},"transform":[{"filter":{"field":"p","equal":"IC2602"}}],"mark":{"type":"line","color":"#0000ff","strokeWidth":1.1,"interpolate":"cardinal-closed","clip":true},"encoding":{"x":{"field":"q","type":"quantitative","scale":{"domain":[0.56,1.64],"nice":false,"zero":false},"axis":{"title":null,"values":[0.6,0.8,1.0,1.2,1.4,1.6],"format":".1f"}},"y":{"field":"s","type":"quantitative","scale":{"domain":[4.49,18.50],"nice":false,"zero":false},"axis":{"title":"σ","values":[6,8,10,12,14,16,18],"format":"d"}},"detail":{"field":"e"},"order":{"field":"i"}}},
    {"data":{"name":"fit"},"transform":[{"filter":{"field":"p","equal":"IC2602"}}],"mark":{"type":"line","color":"#000000","strokeWidth":1.8,"clip":true},"encoding":{"x":{"field":"q","type":"quantitative"},"y":{"field":"s","type":"quantitative"}}},
    {"data":{"name":"centers"},"transform":[{"filter":{"field":"p","equal":"IC2602"}}],"mark":{"type":"rule","color":"#ff0000","strokeWidth":1.8},"encoding":{"x":{"datum":1,"type":"quantitative"}}},
    {"data":{"name":"centers"},"transform":[{"filter":{"field":"p","equal":"IC2602"}}],"mark":{"type":"point","filled":true,"opacity":1,"color":"#000080","size":28},"encoding":{"x":{"field":"q","type":"quantitative"},"y":{"field":"s","type":"quantitative"}}},
    {"data":{"name":"labels"},"transform":[{"filter":{"field":"p","equal":"IC2602"}}],"mark":{"type":"text","align":"left","baseline":"middle","fontSize":18,"color":"#111111"},"encoding":{"x":{"field":"q","type":"quantitative"},"y":{"field":"s","type":"quantitative"},"text":{"field":"t"}}}
  ]},
  {"title":"Praesepe","width":366,"height":276,"layer":[
    {"data":{"name":"ell"},"transform":[{"filter":{"field":"p","equal":"Praesepe"}}],"mark":{"type":"line","color":"#0000ff","strokeWidth":1.1,"interpolate":"cardinal-closed","clip":true},"encoding":{"x":{"field":"q","type":"quantitative","scale":{"domain":[0.56,1.64],"nice":false,"zero":false},"axis":{"title":null,"values":[0.6,0.8,1.0,1.2,1.4,1.6],"format":".1f"}},"y":{"field":"s","type":"quantitative","scale":{"domain":[6.885,10.12],"nice":false,"zero":false},"axis":{"title":null,"values":[7,7.5,8,8.5,9,9.5,10],"format":".1f"}},"detail":{"field":"e"},"order":{"field":"i"}}},
    {"data":{"name":"fit"},"transform":[{"filter":{"field":"p","equal":"Praesepe"}}],"mark":{"type":"line","color":"#000000","strokeWidth":1.8,"clip":true},"encoding":{"x":{"field":"q","type":"quantitative"},"y":{"field":"s","type":"quantitative"}}},
    {"data":{"name":"centers"},"transform":[{"filter":{"field":"p","equal":"Praesepe"}}],"mark":{"type":"rule","color":"#ff0000","strokeWidth":1.8},"encoding":{"x":{"datum":1,"type":"quantitative"}}},
    {"data":{"name":"centers"},"transform":[{"filter":{"field":"p","equal":"Praesepe"}}],"mark":{"type":"point","filled":true,"opacity":1,"color":"#000080","size":28},"encoding":{"x":{"field":"q","type":"quantitative"},"y":{"field":"s","type":"quantitative"}}},
    {"data":{"name":"labels"},"transform":[{"filter":{"field":"p","equal":"Praesepe"}}],"mark":{"type":"text","align":"left","baseline":"middle","fontSize":18,"color":"#111111"},"encoding":{"x":{"field":"q","type":"quantitative"},"y":{"field":"s","type":"quantitative"},"text":{"field":"t"}}}
  ]},
  {"title":"Pleiades","width":366,"height":276,"layer":[
    {"data":{"name":"ell"},"transform":[{"filter":{"field":"p","equal":"Pleiades"}}],"mark":{"type":"line","color":"#0000ff","strokeWidth":1.1,"interpolate":"cardinal-closed","clip":true},"encoding":{"x":{"field":"q","type":"quantitative","scale":{"domain":[0.56,1.64],"nice":false,"zero":false},"axis":{"title":null,"values":[0.6,0.8,1.0,1.2,1.4,1.6],"format":".1f"}},"y":{"field":"s","type":"quantitative","scale":{"domain":[10.82,16.19],"nice":false,"zero":false},"axis":{"title":"σ","values":[11,12,13,14,15,16],"format":"d"}},"detail":{"field":"e"},"order":{"field":"i"}}},
    {"data":{"name":"fit"},"transform":[{"filter":{"field":"p","equal":"Pleiades"}}],"mark":{"type":"line","color":"#000000","strokeWidth":1.8,"clip":true},"encoding":{"x":{"field":"q","type":"quantitative"},"y":{"field":"s","type":"quantitative"}}},
    {"data":{"name":"centers"},"transform":[{"filter":{"field":"p","equal":"Pleiades"}}],"mark":{"type":"rule","color":"#ff0000","strokeWidth":1.8},"encoding":{"x":{"datum":1,"type":"quantitative"}}},
    {"data":{"name":"centers"},"transform":[{"filter":{"field":"p","equal":"Pleiades"}}],"mark":{"type":"point","filled":true,"opacity":1,"color":"#000080","size":28},"encoding":{"x":{"field":"q","type":"quantitative"},"y":{"field":"s","type":"quantitative"}}},
    {"data":{"name":"labels"},"transform":[{"filter":{"field":"p","equal":"Pleiades"}}],"mark":{"type":"text","align":"left","baseline":"middle","fontSize":18,"color":"#111111"},"encoding":{"x":{"field":"q","type":"quantitative"},"y":{"field":"s","type":"quantitative"},"text":{"field":"t"}}}
  ]},
  {"title":"NGC0752","width":366,"height":276,"layer":[
    {"data":{"name":"ell"},"transform":[{"filter":{"field":"p","equal":"NGC0752"}}],"mark":{"type":"line","color":"#0000ff","strokeWidth":1.1,"interpolate":"cardinal-closed","clip":true},"encoding":{"x":{"field":"q","type":"quantitative","scale":{"domain":[0.56,1.64],"nice":false,"zero":false},"axis":{"title":null,"values":[0.6,0.8,1.0,1.2,1.4,1.6],"format":".1f"}},"y":{"field":"s","type":"quantitative","scale":{"domain":[4.39,7.62],"nice":false,"zero":false},"axis":{"title":null,"values":[4.5,5,5.5,6,6.5,7,7.5],"format":".1f"}},"detail":{"field":"e"},"order":{"field":"i"}}},
    {"data":{"name":"fit"},"transform":[{"filter":{"field":"p","equal":"NGC0752"}}],"mark":{"type":"line","color":"#000000","strokeWidth":1.8,"clip":true},"encoding":{"x":{"field":"q","type":"quantitative"},"y":{"field":"s","type":"quantitative"}}},
    {"data":{"name":"centers"},"transform":[{"filter":{"field":"p","equal":"NGC0752"}}],"mark":{"type":"rule","color":"#ff0000","strokeWidth":1.8},"encoding":{"x":{"datum":1,"type":"quantitative"}}},
    {"data":{"name":"centers"},"transform":[{"filter":{"field":"p","equal":"NGC0752"}}],"mark":{"type":"point","filled":true,"opacity":1,"color":"#000080","size":28},"encoding":{"x":{"field":"q","type":"quantitative"},"y":{"field":"s","type":"quantitative"}}},
    {"data":{"name":"labels"},"transform":[{"filter":{"field":"p","equal":"NGC0752"}}],"mark":{"type":"text","align":"left","baseline":"middle","fontSize":18,"color":"#111111"},"encoding":{"x":{"field":"q","type":"quantitative"},"y":{"field":"s","type":"quantitative"},"text":{"field":"t"}}}
  ]},
  {"title":"NGC6475","width":366,"height":276,"layer":[
    {"data":{"name":"ell"},"transform":[{"filter":{"field":"p","equal":"NGC6475"}}],"mark":{"type":"line","color":"#0000ff","strokeWidth":1.1,"interpolate":"cardinal-closed","clip":true},"encoding":{"x":{"field":"q","type":"quantitative","scale":{"domain":[0.56,1.64],"nice":false,"zero":false},"axis":{"title":null,"values":[0.6,0.8,1.0,1.2,1.4,1.6],"format":".1f"}},"y":{"field":"s","type":"quantitative","scale":{"domain":[10.8,17.23],"nice":false,"zero":false},"axis":{"title":"σ","values":[11,12,13,14,15,16,17],"format":"d"}},"detail":{"field":"e"},"order":{"field":"i"}}},
    {"data":{"name":"fit"},"transform":[{"filter":{"field":"p","equal":"NGC6475"}}],"mark":{"type":"line","color":"#000000","strokeWidth":1.8,"clip":true},"encoding":{"x":{"field":"q","type":"quantitative"},"y":{"field":"s","type":"quantitative"}}},
    {"data":{"name":"centers"},"transform":[{"filter":{"field":"p","equal":"NGC6475"}}],"mark":{"type":"rule","color":"#ff0000","strokeWidth":1.8},"encoding":{"x":{"datum":1,"type":"quantitative"}}},
    {"data":{"name":"centers"},"transform":[{"filter":{"field":"p","equal":"NGC6475"}}],"mark":{"type":"point","filled":true,"opacity":1,"color":"#000080","size":28},"encoding":{"x":{"field":"q","type":"quantitative"},"y":{"field":"s","type":"quantitative"}}},
    {"data":{"name":"labels"},"transform":[{"filter":{"field":"p","equal":"NGC6475"}}],"mark":{"type":"text","align":"left","baseline":"middle","fontSize":18,"color":"#111111"},"encoding":{"x":{"field":"q","type":"quantitative"},"y":{"field":"s","type":"quantitative"},"text":{"field":"t"}}}
  ]},
  {"title":"NGC2682","width":366,"height":276,"layer":[
    {"data":{"name":"ell"},"transform":[{"filter":{"field":"p","equal":"NGC2682"}}],"mark":{"type":"line","color":"#0000ff","strokeWidth":1.1,"interpolate":"cardinal-closed","clip":true},"encoding":{"x":{"field":"q","type":"quantitative","scale":{"domain":[0.56,1.64],"nice":false,"zero":false},"axis":{"title":"q","values":[0.6,0.8,1.0,1.2,1.4,1.6],"format":".1f"}},"y":{"field":"s","type":"quantitative","scale":{"domain":[4.85,9.16],"nice":false,"zero":false},"axis":{"title":null,"values":[5,6,7,8,9],"format":"d"}},"detail":{"field":"e"},"order":{"field":"i"}}},
    {"data":{"name":"fit"},"transform":[{"filter":{"field":"p","equal":"NGC2682"}}],"mark":{"type":"line","color":"#000000","strokeWidth":1.8,"clip":true},"encoding":{"x":{"field":"q","type":"quantitative"},"y":{"field":"s","type":"quantitative"}}},
    {"data":{"name":"centers"},"transform":[{"filter":{"field":"p","equal":"NGC2682"}}],"mark":{"type":"rule","color":"#ff0000","strokeWidth":1.8},"encoding":{"x":{"datum":1,"type":"quantitative"}}},
    {"data":{"name":"centers"},"transform":[{"filter":{"field":"p","equal":"NGC2682"}}],"mark":{"type":"point","filled":true,"opacity":1,"color":"#000080","size":28},"encoding":{"x":{"field":"q","type":"quantitative"},"y":{"field":"s","type":"quantitative"}}},
    {"data":{"name":"labels"},"transform":[{"filter":{"field":"p","equal":"NGC2682"}}],"mark":{"type":"text","align":"left","baseline":"middle","fontSize":18,"color":"#111111"},"encoding":{"x":{"field":"q","type":"quantitative"},"y":{"field":"s","type":"quantitative"},"text":{"field":"t"}}}
  ]},
  {"title":"Blanco1","width":366,"height":276,"layer":[
    {"data":{"name":"ell"},"transform":[{"filter":{"field":"p","equal":"Blanco1"}}],"mark":{"type":"line","color":"#0000ff","strokeWidth":1.1,"interpolate":"cardinal-closed","clip":true},"encoding":{"x":{"field":"q","type":"quantitative","scale":{"domain":[0.56,1.64],"nice":false,"zero":false},"axis":{"title":"q","values":[0.6,0.8,1.0,1.2,1.4,1.6],"format":".1f"}},"y":{"field":"s","type":"quantitative","scale":{"domain":[9.84,14.16],"nice":false,"zero":false},"axis":{"title":"σ","values":[10,11,12,13,14],"format":"d"}},"detail":{"field":"e"},"order":{"field":"i"}}},
    {"data":{"name":"fit"},"transform":[{"filter":{"field":"p","equal":"Blanco1"}}],"mark":{"type":"line","color":"#000000","strokeWidth":1.8,"clip":true},"encoding":{"x":{"field":"q","type":"quantitative"},"y":{"field":"s","type":"quantitative"}}},
    {"data":{"name":"centers"},"transform":[{"filter":{"field":"p","equal":"Blanco1"}}],"mark":{"type":"rule","color":"#ff0000","strokeWidth":1.8},"encoding":{"x":{"datum":1,"type":"quantitative"}}},
    {"data":{"name":"centers"},"transform":[{"filter":{"field":"p","equal":"Blanco1"}}],"mark":{"type":"point","filled":true,"opacity":1,"color":"#000080","size":28},"encoding":{"x":{"field":"q","type":"quantitative"},"y":{"field":"s","type":"quantitative"}}},
    {"data":{"name":"labels"},"transform":[{"filter":{"field":"p","equal":"Blanco1"}}],"mark":{"type":"text","align":"left","baseline":"middle","fontSize":18,"color":"#111111"},"encoding":{"x":{"field":"q","type":"quantitative"},"y":{"field":"s","type":"quantitative"},"text":{"field":"t"}}}
  ]}
]
}
